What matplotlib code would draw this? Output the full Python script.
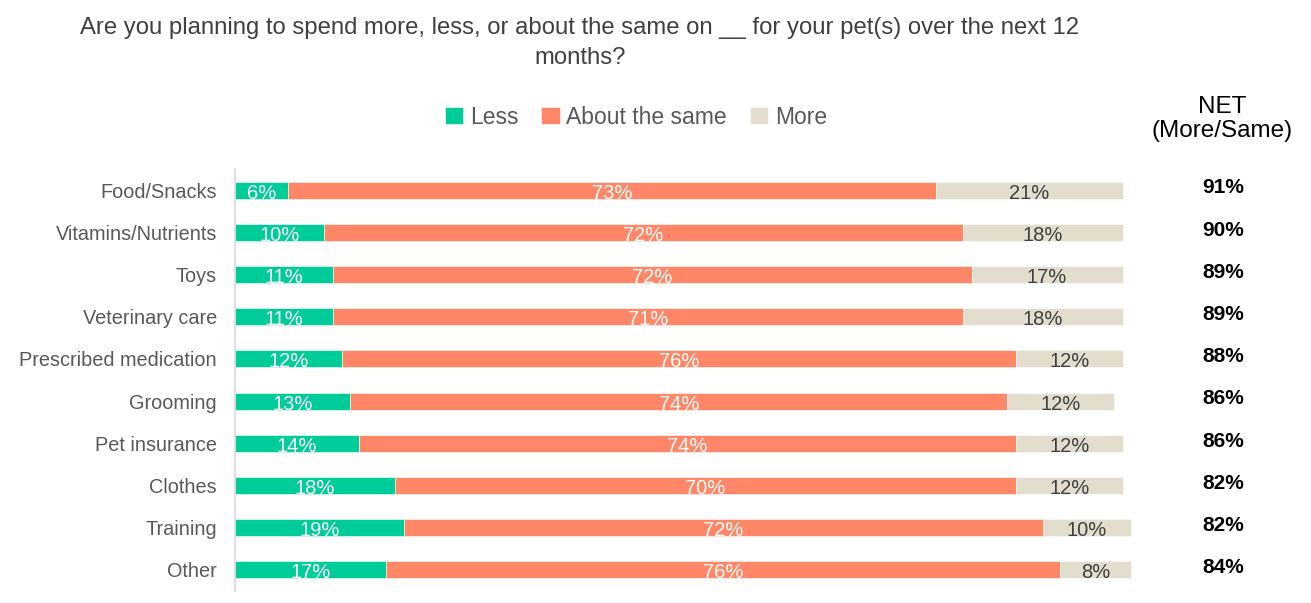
import matplotlib.pyplot as plt
import numpy as np

plt.rcParams['font.family'] = ['Liberation Sans', 'DejaVu Sans']

categories = ["Food/Snacks", "Vitamins/Nutrients", "Toys", "Veterinary care",
              "Prescribed medication", "Grooming", "Pet insurance", "Clothes",
              "Training", "Other"]
less = [6, 10, 11, 11, 12, 13, 14, 18, 19, 17]
same = [73, 72, 72, 71, 76, 74, 74, 70, 72, 76]
more = [21, 18, 17, 18, 12, 12, 12, 12, 10, 8]
net = [91, 90, 89, 89, 88, 86, 86, 82, 82, 84]

series_names = ["Less", "About the same", "More"]
colors = ["#00CC99", "#FF8767", "#E2DDCD"]
text_colors = ["white", "white", "#404040"]

fig = plt.figure(figsize=(13.11, 6.03), dpi=100)
ax = fig.add_axes([235/1311, 1-591/603, 1065/1311, 422/603])

y = np.arange(len(categories))
left = np.zeros(len(categories))
for vals, name, c, tc in zip([less, same, more], series_names, colors, text_colors):
    vals = np.array(vals)
    ax.barh(y, vals, left=left, height=0.4, color=c, label=name,
            edgecolor="white", linewidth=0.4)
    for yi, l, v in zip(y, left, vals):
        ax.text(l + v/2, yi + 0.07, f"{v}%", ha="center", va="center",
                fontsize=14.5, color=tc)
    left = left + vals

# NET column
for yi, n in zip(y, net):
    ax.text(111.3, yi - 0.05, f"{n}%", ha="center", va="center",
            fontsize=15, fontweight="bold", color="black")
fig.text(1222/1311, 1-119/603, "NET\n(More/Same)", ha="center", va="center",
         fontsize=17.5, color="black", linespacing=1.1)

ax.set_xlim(0, 120)
ax.set_ylim(9.5, -0.5)
ax.set_yticks(y)
ax.set_yticklabels(categories, fontsize=14.3, color="#595959")
ax.tick_params(axis="y", length=0, pad=13)
ax.set_xticks([])
for s in ["top", "right", "bottom"]:
    ax.spines[s].set_visible(False)
ax.spines["left"].set_color("#D9D9D9")
ax.spines["left"].set_linewidth(1.2)

fig.text(580/1311, 1-43/603,
         "Are you planning to spend more, less, or about the same on __ for your pet(s) over the next 12\nmonths?",
         ha="center", va="center", fontsize=17.2, color="#404040", linespacing=1.42)

handles, labels = ax.get_legend_handles_labels()
fig.legend(handles, labels, loc="center", bbox_to_anchor=(636/1311, 1-117/603),
           ncol=3, frameon=False, fontsize=16.5, labelcolor="#595959",
           handlelength=0.8, handleheight=0.8, handletextpad=0.3, columnspacing=1.0)

fig.savefig("out.png", dpi=100)
